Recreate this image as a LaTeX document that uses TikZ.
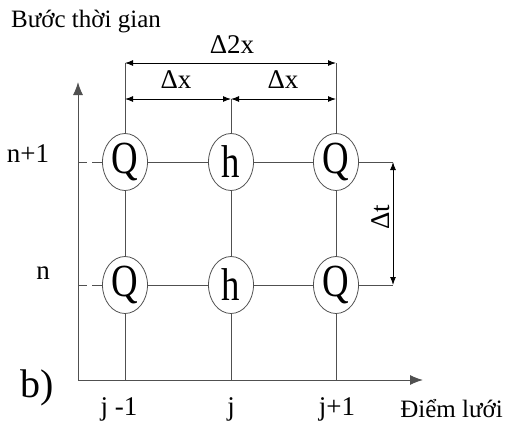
\documentclass[tikz,border=0pt]{standalone}
\usepackage{fontspec}
\setmainfont{Liberation Serif}
\usetikzlibrary{arrows.meta,shapes.geometric}
\definecolor{ln}{HTML}{505050}
\tikzset{
  grid/.style={draw=ln, line width=1pt},
  cell/.style={ellipse, draw=ln, line width=0.8pt, fill=white, minimum width=45pt, minimum height=57pt, inner sep=0pt,
    font=\fontsize{46}{50}\selectfont},
  lbl/.style={inner sep=0pt, font=\fontsize{27}{32}\selectfont},
  dim/.style={draw=black, line width=1pt, {Latex[length=8pt,width=6pt]}-{Latex[length=8pt,width=6pt]}},
  axis/.style={draw=ln, line width=1pt, -{Latex[length=13pt,width=10pt]}},
  dashline/.style={draw=ln, line width=1pt, dash pattern=on 9pt off 5pt on 11pt off 5pt}
}
\begin{document}
\begin{tikzpicture}[x=1pt,y=-1pt]
\useasboundingbox (0,0) rectangle (506,426);
% axes
\coordinate (O) at (78,380);
\coordinate (Ytop) at (78,82);
\coordinate (Xend) at (423,380);
\draw[axis] (O) -- (Ytop);
\draw[axis] (O) -- (Xend);
% nodes
\node[cell] (Q1) at (125,162) {\scalebox{0.8}[1]{Q}};
\node[cell] (H1) at (231,162) {\scalebox{0.8}[1]{h}};
\node[cell] (Q2) at (336,162) {\scalebox{0.8}[1]{Q}};
\node[cell] (Q3) at (125,285) {\scalebox{0.8}[1]{Q}};
\node[cell] (H2) at (231,285) {\scalebox{0.8}[1]{h}};
\node[cell] (Q4) at (336,285) {\scalebox{0.8}[1]{Q}};
% coordinates
\coordinate (T1) at (125,63);
\coordinate (T2) at (231,99);
\coordinate (T3) at (336,63);
\coordinate (M1) at (125,99);
\coordinate (M3) at (336,99);
\coordinate (B1) at (125,380);
\coordinate (B2) at (231,380);
\coordinate (B3) at (336,380);
\coordinate (L1) at (78,162);
\coordinate (L2) at (78,285);
\coordinate (R1) at (393,162);
\coordinate (R2) at (393,285);
% vertical grid lines
\draw[grid] (T1) -- (Q1) -- (Q3) -- (B1);
\draw[grid] (T2) -- (H1) -- (H2) -- (B2);
\draw[grid] (T3) -- (Q2) -- (Q4) -- (B3);
% horizontal grid lines
\draw[grid] (Q1) -- (H1) -- (Q2);
\draw[grid] (Q3) -- (H2) -- (Q4);
\draw[grid] (Q2.east) -- (R1);
\draw[grid] (Q4.east) -- (R2);
\draw[dashline] (L1) -- (Q1.west);
\draw[dashline] (L2) -- (Q3.west);
% dimension arrows
\draw[dim] (T1) -- (T3);
\draw[dim] (M1) -- (T2);
\draw[dim] (T2) -- (M3);
\draw[dim] (R1) -- (R2);
% labels
\node[lbl, anchor=west, font=\fontsize{25}{30}\selectfont] (tl) at (11,22) {Bước thời gian};
\node[lbl] (d2x) at (232,45) {Δ2x};
\node[lbl] (dx1) at (176,80) {Δx};
\node[lbl] (dx2) at (283,80) {Δx};
\node[lbl, rotate=90] (dt) at (381,217) {Δt};
\node[lbl] (n1) at (28,154) {n+1};
\node[lbl] (n0) at (43,273) {n};
\node[lbl, font=\fontsize{40}{44}\selectfont] (b) at (37,388) {b)};
\node[lbl] (jm) at (119,409) {j -1};
\node[lbl] (j0) at (231,409) {j};
\node[lbl] (jp) at (337,409) {j+1};
\node[lbl, anchor=east, font=\fontsize{25}{30}\selectfont] (xl) at (503,409) {Điểm lưới};
\end{tikzpicture}
\end{document}
